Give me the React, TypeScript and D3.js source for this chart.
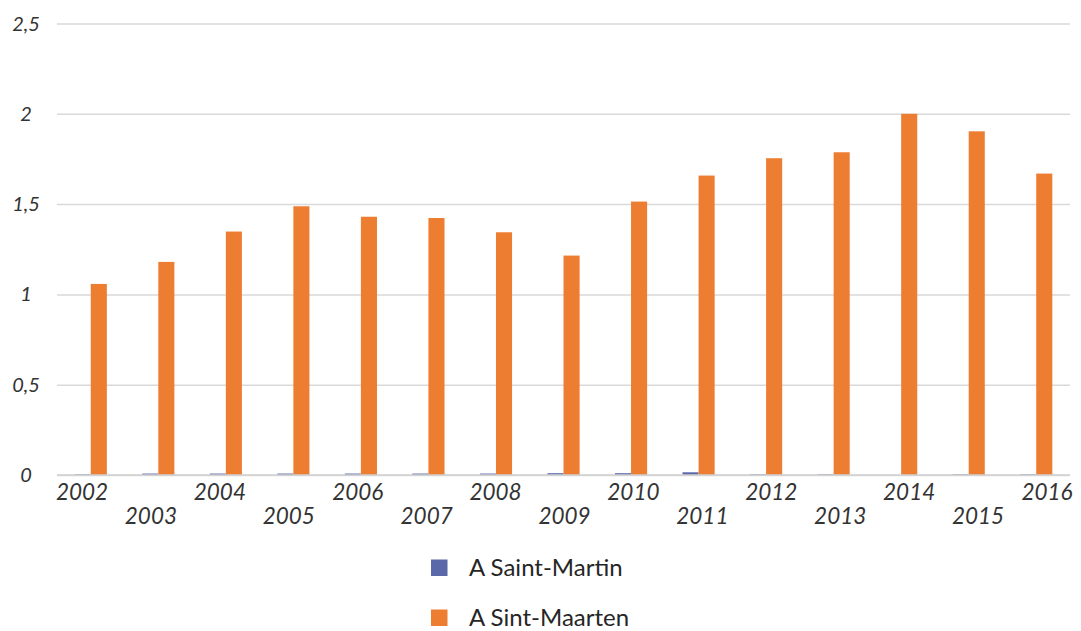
import React, { useRef, useEffect } from 'react';
import { select, scaleBand, scaleLinear, scalePoint, axisLeft } from 'd3';

const years = [
  '2002', '2003', '2004', '2005', '2006', '2007', '2008', '2009',
  '2010', '2011', '2012', '2013', '2014', '2015', '2016',
];
const seriesNames = ['A Saint-Martin', 'A Sint-Maarten'];
const saintMartin = [
  0.004, 0.008, 0.008, 0.008, 0.008, 0.008, 0.008, 0.01,
  0.01, 0.015, 0.004, 0.004, 0, 0.004, 0.004,
];
const sintMaarten = [
  1.058, 1.18, 1.348, 1.488, 1.43, 1.423, 1.344, 1.215,
  1.514, 1.658, 1.754, 1.787, 2.0, 1.903, 1.669,
];
const yTicks = [0, 0.5, 1, 1.5, 2, 2.5];

const colors = ['#5a67a8', '#ed7d31'];

export default function App() {
  const svgRef = useRef(null);

  useEffect(() => {
    const width = 1081;
    const height = 631;
    const margin = { top: 23.5, right: 11, bottom: 156, left: 57 };
    const x1Edge = width - margin.right;
    const yBase = height - margin.bottom;

    const svg = select(svgRef.current);
    svg.selectAll('*').remove();

    // scales
    const xScale = scaleBand().domain(years).range([margin.left, x1Edge]);
    const xInner = scaleBand()
      .domain(seriesNames)
      .range([0, xScale.bandwidth()])
      .paddingInner(0)
      .paddingOuter(1.1);
    const yScale = scaleLinear().domain([0, 2.5]).range([yBase, margin.top]);
    // Excel staggers the year labels on a slightly wider spacing
    const labelScale = scalePoint()
      .domain(years)
      .range([margin.left + 25, x1Edge - 23]);

    // grid lines
    const grid = svg
      .append('g')
      .attr('transform', `translate(${margin.left},0)`)
      .call(
        axisLeft(yScale)
          .tickValues(yTicks)
          .tickSize(-(x1Edge - margin.left))
          .tickFormat(() => ''),
      );
    grid.select('.domain').remove();
    grid.selectAll('line').attr('stroke', '#d9d9d9').attr('stroke-width', 1.5);

    // y labels
    svg
      .append('g')
      .selectAll('text')
      .data(yTicks)
      .join('text')
      .attr('x', 26)
      .attr('y', d => yScale(d) + 7)
      .attr('text-anchor', 'middle')
      .attr('font-family', 'Lato')
      .attr('font-style', 'italic')
      .attr('font-size', 20)
      .attr('fill', '#333')
      .text(d => String(d).replace('.', ','));

    // bars
    const seriesData = [saintMartin, sintMaarten];
    seriesData.forEach((vals, si) => {
      svg
        .append('g')
        .selectAll('rect')
        .data(vals)
        .join('rect')
        .attr('x', (d, i) => xScale(years[i]) + xInner(seriesNames[si]))
        .attr('width', xInner.bandwidth())
        .attr('y', d => yScale(d))
        .attr('height', d => yBase - yScale(d))
        .attr('fill', colors[si]);
    });

    // baseline
    svg
      .append('line')
      .attr('x1', margin.left)
      .attr('x2', x1Edge)
      .attr('y1', yBase)
      .attr('y2', yBase)
      .attr('stroke', '#d0d0d0')
      .attr('stroke-width', 1.5);

    // x labels, staggered on two rows
    svg
      .append('g')
      .selectAll('text')
      .data(years)
      .join('text')
      .attr('x', d => labelScale(d))
      .attr('y', (d, i) => (i % 2 === 0 ? 500 : 524))
      .attr('text-anchor', 'middle')
      .attr('font-family', 'Lato')
      .attr('font-style', 'italic')
      .attr('font-size', 22.5)
      .attr('fill', '#333')
      .text(d => d);

    // legend
    const legend = svg
      .append('g')
      .selectAll('g')
      .data(seriesNames)
      .join('g')
      .attr('transform', (d, i) => `translate(431,${576 + i * 50})`);
    legend
      .append('rect')
      .attr('x', 0)
      .attr('y', -16.5)
      .attr('width', 16.5)
      .attr('height', 16.5)
      .attr('fill', (d, i) => colors[i]);
    legend
      .append('text')
      .attr('x', 38)
      .attr('y', 0)
      .attr('font-family', 'Lato')
      .attr('font-size', 24)
      .attr('fill', '#262626')
      .text(d => d);
  }, []);

  return (
    <svg
      ref={svgRef}
      width={1081}
      height={631}
      style={{ position: 'absolute', left: 0, top: 0, background: '#fff' }}
    />
  );
}
